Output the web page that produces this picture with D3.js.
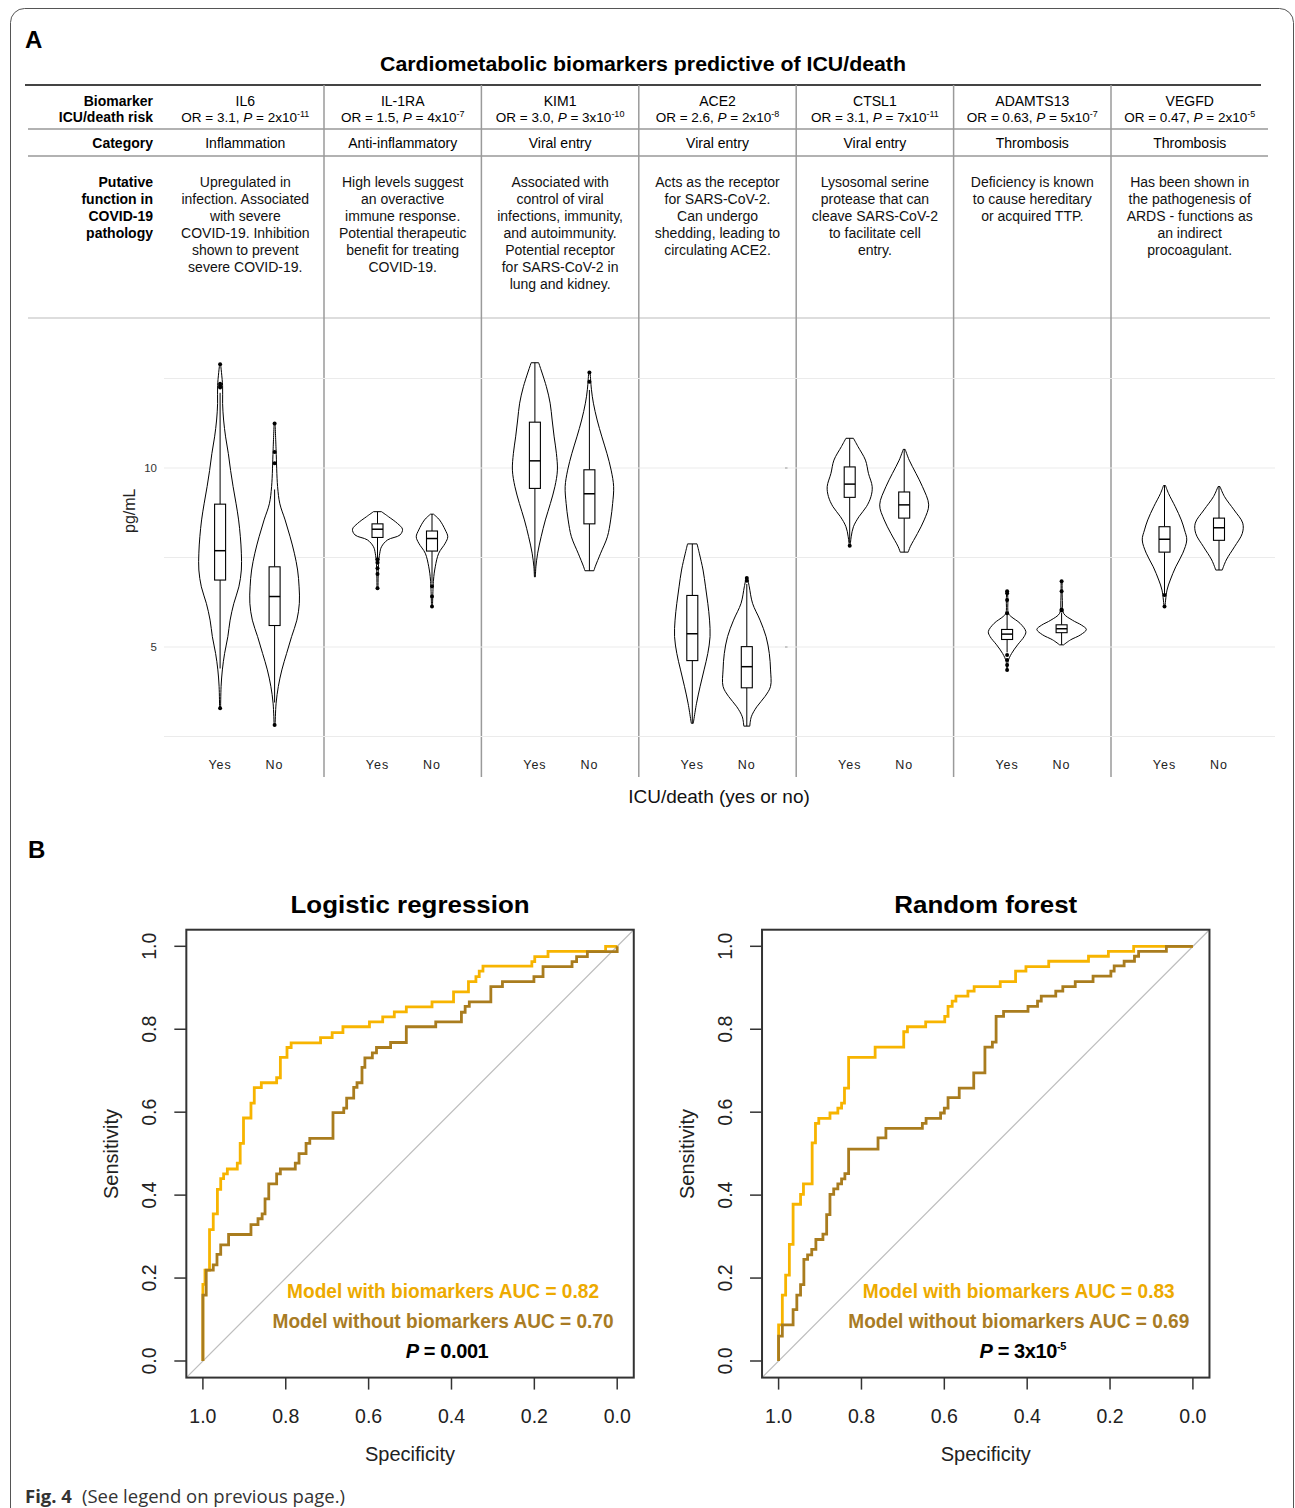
<!DOCTYPE html>
<html><head><meta charset="utf-8">
<script src="https://cdn.jsdelivr.net/npm/d3@7"></script>
<style>
body{margin:0;background:#fff}
text{font-family:"Liberation Sans",Arial,Helvetica,sans-serif}
</style>
</head><body>
<svg id="fig" width="1295" height="1508"></svg>
<script>
// ---------------- DATA ----------------
const biomarkers = ["IL6","IL-1RA","KIM1","ACE2","CTSL1","ADAMTS13","VEGFD"];
const oddsRatios = ["3.1","1.5","3.0","2.6","3.1","0.63","0.47"];
const pMantissa = ["2","4","3","2","7","5","2"];
const pExponent = ["-11","-7","-10","-8","-11","-7","-5"];
const categories = ["Inflammation","Anti-inflammatory","Viral entry","Viral entry","Viral entry","Thrombosis","Thrombosis"];
const functions = [
  ["Upregulated in","infection. Associated","with severe","COVID-19. Inhibition","shown to prevent","severe COVID-19."],
  ["High levels suggest","an overactive","immune response.","Potential therapeutic","benefit for treating","COVID-19."],
  ["Associated with","control of viral","infections, immunity,","and autoimmunity.","Potential receptor","for SARS-CoV-2 in","lung and kidney."],
  ["Acts as the receptor","for SARS-CoV-2.","Can undergo","shedding, leading to","circulating ACE2."],
  ["Lysosomal serine","protease that can","cleave SARS-CoV-2","to facilitate cell","entry."],
  ["Deficiency is known","to cause hereditary","or acquired TTP."],
  ["Has been shown in","the pathogenesis of","ARDS - functions as","an indirect","procoagulant."]
];
const rowLabels = [["Biomarker","ICU/death risk"],["Category"],["Putative","function in","COVID-19","pathology"]];
const groups = ["Yes","No"];
const yTicks = [5,10];
const yGrid = [2.5,5,7.5,10,12.5];

// violin profiles: [value, relative density]
const violinYes = [
  [[12.9,.02],[12.3,.1],[11.8,.1],[11.34,.14],[10.87,.22],[10.4,.33],[9.93,.42],[9.48,.52],[9.0,.64],[8.55,.74],[8.08,.81],[7.62,.85],[7.15,.85],[6.68,.75],[6.22,.55],[5.75,.4],[5.29,.31],[4.82,.18],[4.36,.09],[3.9,.04],[3.29,.02]],
  [[8.78,.16],[8.64,.44],[8.45,.8],[8.29,1.0],[8.13,.9],[7.99,.4],[7.8,.16],[7.62,.09],[7.3,.04],[6.64,.02]],
  [[12.94,.15],[12.27,.46],[11.81,.61],[11.34,.69],[10.87,.77],[10.41,.86],[9.94,.9],[9.48,.8],[9.01,.62],[8.55,.42],[8.08,.25],[7.62,.11],[7.24,.04],[6.96,.02]],
  [[7.88,.19],[7.62,.28],[7.15,.43],[6.68,.53],[6.22,.62],[5.75,.69],[5.29,.71],[4.82,.62],[4.36,.47],[3.89,.31],[3.43,.17],[2.96,.06],[2.87,.04]],
  [[10.83,.15],[10.6,.33],[10.22,.63],[9.85,.75],[9.48,.9],[9.2,.85],[8.92,.67],[8.64,.37],[8.36,.15],[8.08,.06],[7.83,.02]],
  [[6.56,.02],[6.3,.03],[5.94,.05],[5.85,.16],[5.66,.52],[5.43,.75],[5.29,.68],[5.06,.42],[4.82,.18],[4.6,.04],[4.38,.02]],
  [[9.51,.04],[9.29,.16],[8.92,.43],[8.55,.67],[8.27,.8],[7.99,.89],[7.62,.73],[7.24,.45],[6.87,.23],[6.59,.1],[6.13,.02]]
];
const violinNo = [
  [[11.24,.02],[10.5,.06],[9.48,.12],[9.0,.21],[8.55,.42],[8.08,.62],[7.62,.79],[7.15,.92],[6.68,.98],[6.22,.99],[5.75,.89],[5.29,.68],[4.82,.48],[4.36,.29],[3.9,.15],[3.43,.06],[2.82,.02]],
  [[8.71,.06],[8.55,.3],[8.27,.53],[8.08,.63],[7.9,.53],[7.62,.27],[7.24,.13],[6.87,.06],[6.13,.02]],
  [[12.67,.03],[12.2,.08],[11.81,.16],[11.34,.31],[10.87,.5],[10.41,.7],[9.94,.87],[9.48,.97],[9.01,.93],[8.55,.85],[8.08,.72],[7.62,.45],[7.24,.23],[7.13,.18]],
  [[6.93,.03],[6.68,.1],[6.22,.23],[5.75,.53],[5.29,.77],[4.82,.9],[4.36,.95],[3.9,.95],[3.62,.73],[3.33,.4],[3.05,.18],[2.79,.12]],
  [[10.52,.04],[10.22,.2],[9.85,.47],[9.48,.73],[8.97,.98],[8.55,.8],[8.17,.53],[7.8,.24],[7.65,.16]],
  [[6.85,.02],[6.3,.03],[5.94,.08],[5.75,.43],[5.61,.8],[5.49,.99],[5.34,.76],[5.2,.36],[5.06,.08]],
  [[9.48,.04],[9.2,.22],[8.83,.6],[8.46,.95],[8.17,.93],[7.8,.62],[7.43,.29],[7.15,.13]]
];
// box stats: [whiskerLow, q1, median, q3, whiskerHigh]
const boxYes = [[4.4,6.87,7.69,8.99,12.1],[7.48,8.06,8.29,8.44,8.78],[6.96,9.43,10.2,11.28,12.94],[2.87,4.62,5.37,6.44,7.88],[7.9,9.18,9.55,10.03,10.83],[4.85,5.21,5.36,5.49,5.92],[6.5,7.65,8.01,8.36,9.51]];
const boxNo  = [[3.45,5.6,6.41,7.24,9.4],[6.77,7.68,8.03,8.24,8.71],[7.13,8.44,9.28,9.95,12.18],[2.79,3.86,4.45,5.01,6.76],[7.65,8.6,8.97,9.33,10.52],[5.06,5.4,5.51,5.62,5.95],[7.15,7.98,8.33,8.6,9.48]];
const outliersYes = [[12.25,12.3,12.35,12.9,3.29],[7.45,7.35,7.2,7.04,6.64],[],[],[7.83],[6.56,6.5,6.31,5.94,4.78,4.64,4.5,4.36],[6.45,6.13]];
const outliersNo  = [[10.13,10.45,11.24,2.82],[6.7,6.41,6.13],[12.41,12.67],[6.85,6.93],[],[6.02,6.05,6.56,6.84],[]];

// ROC curves: [specificity, sensitivity]
const specTicks = [1.0,0.8,0.6,0.4,0.2,0.0];
const sensTicks = [0.0,0.2,0.4,0.6,0.8,1.0];
const rocLogWith = [[1,0],[1,.185],[.995,.219],[.984,.317],[.975,.355],[.965,.414],[.957,.44],[.95,.451],[.941,.463],[.917,.477],[.91,.525],[.902,.586],[.884,.622],[.876,.659],[.859,.671],[.822,.683],[.813,.732],[.797,.756],[.787,.767],[.716,.78],[.688,.792],[.662,.806],[.598,.818],[.566,.83],[.538,.842],[.509,.854],[.447,.866],[.395,.89],[.359,.915],[.341,.927],[.333,.94],[.324,.952],[.206,.963],[.199,.975],[.167,.988],[.028,1],[0,1]];
const rocLogWithout = [[1,0],[1,.159],[.992,.219],[.975,.232],[.966,.257],[.957,.28],[.938,.305],[.884,.329],[.867,.343],[.857,.355],[.85,.391],[.841,.427],[.822,.451],[.813,.463],[.777,.477],[.768,.5],[.751,.525],[.742,.537],[.686,.599],[.66,.61],[.653,.634],[.636,.66],[.628,.671],[.616,.708],[.609,.731],[.591,.743],[.581,.756],[.547,.768],[.509,.806],[.438,.818],[.376,.841],[.367,.855],[.357,.866],[.305,.903],[.277,.915],[.201,.927],[.179,.951],[.109,.963],[.098,.975],[.072,.987],[0,1]];
const rocRfWith = [[1,0],[1,.087],[.991,.159],[.983,.207],[.974,.281],[.965,.378],[.947,.402],[.94,.427],[.919,.526],[.911,.573],[.903,.585],[.876,.598],[.857,.61],[.848,.622],[.841,.658],[.831,.732],[.767,.757],[.698,.794],[.689,.806],[.645,.818],[.599,.831],[.591,.855],[.581,.868],[.572,.88],[.543,.892],[.528,.903],[.465,.915],[.428,.94],[.403,.951],[.348,.964],[.252,.976],[.204,.988],[.143,1],[0,1]];
const rocRfWithout = [[1,0],[1,.06],[.991,.087],[.965,.124],[.956,.159],[.947,.184],[.939,.245],[.93,.256],[.92,.269],[.91,.293],[.893,.306],[.884,.353],[.876,.402],[.867,.415],[.857,.427],[.848,.439],[.84,.452],[.831,.511],[.76,.538],[.741,.561],[.653,.573],[.644,.585],[.609,.598],[.6,.61],[.591,.635],[.564,.658],[.529,.695],[.502,.757],[.484,.769],[.475,.831],[.457,.843],[.398,.855],[.375,.868],[.366,.88],[.331,.892],[.314,.903],[.284,.915],[.241,.928],[.198,.94],[.19,.953],[.166,.964],[.141,.976],[.131,.988],[.064,1],[0,1]];
const rocPanels = [
  {title:"Logistic regression", withRoc:rocLogWith, withoutRoc:rocLogWithout, aucWith:"0.82", aucWithout:"0.70", pMain:"0.001", pExp:null},
  {title:"Random forest", withRoc:rocRfWith, withoutRoc:rocRfWithout, aucWith:"0.83", aucWithout:"0.69", pMain:"3x10", pExp:"-5"}
];

// ---------------- DRAW ----------------
const svg = d3.select("#fig");
const COL_WITH = "#F7B400", COL_WITHOUT = "#A97C1E";
const TXT_WITH = "#EDAA00", TXT_WITHOUT = "#A87B24";

svg.append("rect").attr("x",10.5).attr("y",8.5).attr("width",1283).attr("height",1560)
  .attr("rx",14).attr("fill","none").attr("stroke","#555").attr("stroke-width",1);

svg.append("text").attr("x",25).attr("y",48).attr("font-size",24).attr("font-weight","bold").text("A");
svg.append("text").attr("x",643).attr("y",71).attr("text-anchor","middle").attr("font-size",20.5).attr("font-weight","bold")
  .attr("textLength",526).attr("lengthAdjust","spacingAndGlyphs")
  .text("Cardiometabolic biomarkers predictive of ICU/death");

const colX = d3.scaleBand().domain(biomarkers).range([166.6, 1268.4]);
const cx = b => colX(b) + colX.bandwidth()/2;

// table lines
svg.append("line").attr("x1",25).attr("x2",1261).attr("y1",85).attr("y2",85).attr("stroke","#444").attr("stroke-width",2);
[129,156].forEach(y=>svg.append("line").attr("x1",28).attr("x2",1268).attr("y1",y).attr("y2",y).attr("stroke","#999").attr("stroke-width",1.5));
svg.append("line").attr("x1",28).attr("x2",1270).attr("y1",318).attr("y2",318).attr("stroke","#bbb").attr("stroke-width",1.2);
biomarkers.slice(1).forEach(b=>{
  svg.append("line").attr("x1",colX(b)).attr("x2",colX(b)).attr("y1",85).attr("y2",777).attr("stroke","#9a9a9a").attr("stroke-width",1.5);
});

// row labels
const rowBase = [[106,122],[148],[187,204,221,238]];
rowLabels.forEach((lines,r)=>lines.forEach((t,k)=>{
  svg.append("text").attr("x",153).attr("y",rowBase[r][k]).attr("text-anchor","end").attr("font-size",14).attr("font-weight","bold").text(t);
}));

biomarkers.forEach((b,i)=>{
  const x = cx(b);
  svg.append("text").attr("x",x).attr("y",106).attr("text-anchor","middle").attr("font-size",14).text(b);
  const t = svg.append("text").attr("x",x).attr("y",122).attr("text-anchor","middle").attr("font-size",13.5);
  t.append("tspan").text("OR = "+oddsRatios[i]+", ");
  t.append("tspan").attr("font-style","italic").text("P");
  t.append("tspan").text(" = "+pMantissa[i]+"x10");
  t.append("tspan").attr("font-size",9).attr("dy",-5).text(pExponent[i]);
  svg.append("text").attr("x",x).attr("y",148).attr("text-anchor","middle").attr("font-size",14).text(categories[i]);
  functions[i].forEach((ln,k)=>{
    svg.append("text").attr("x",x).attr("y",187+17*k).attr("text-anchor","middle").attr("font-size",14).attr("fill","#111").text(ln);
  });
});

// violin panel
const yV = d3.scaleLinear().domain([2.5,12.5]).range([736.5,378.5]);
const wScale = d3.scaleLinear().domain([0,1]).range([0,25]);
yGrid.forEach(v=>svg.append("line").attr("x1",164).attr("x2",1275).attr("y1",yV(v)).attr("y2",yV(v)).attr("stroke","#ebebeb").attr("stroke-width",1));
yTicks.forEach(v=>{
  svg.append("text").attr("x",157).attr("y",yV(v)).attr("dy","0.35em").attr("text-anchor","end").attr("font-size",11.5).attr("fill","#333").text(v);
  svg.append("line").attr("x1",785).attr("x2",787.5).attr("y1",yV(v)).attr("y2",yV(v)).attr("stroke","#999").attr("stroke-width",1);
});
svg.append("text").attr("transform",`translate(135,${(yV(7.5)+yV(10))/2 - 2}) rotate(-90)`).attr("text-anchor","middle").attr("font-size",16).attr("fill","#222").text("pg/mL");

const vArea = d3.area().y(d=>yV(d[0])).curve(d3.curveCatmullRom.alpha(0.5));
biomarkers.forEach((b,i)=>{
  const left = colX(b);
  const gx = d3.scalePoint().domain(groups).range([left+53.5, left+108]);
  groups.forEach((g,j)=>{
    const c = gx(g);
    const prof = (j===0?violinYes:violinNo)[i];
    const st = (j===0?boxYes:boxNo)[i];
    const outs = (j===0?outliersYes:outliersNo)[i];
    svg.append("path").datum(prof)
      .attr("d", vArea.x0(d=>c - wScale(d[1])).x1(d=>c + wScale(d[1])))
      .attr("fill","#fff").attr("stroke","#000").attr("stroke-width",1);
    svg.append("line").attr("x1",c).attr("x2",c).attr("y1",yV(st[0])).attr("y2",yV(st[1])).attr("stroke","#000").attr("stroke-width",1);
    svg.append("line").attr("x1",c).attr("x2",c).attr("y1",yV(st[3])).attr("y2",yV(st[4])).attr("stroke","#000").attr("stroke-width",1);
    svg.append("rect").attr("x",c-5.5).attr("width",11).attr("y",yV(st[3])).attr("height",yV(st[1])-yV(st[3]))
      .attr("fill","#fff").attr("stroke","#000").attr("stroke-width",1.1);
    svg.append("line").attr("x1",c-5.5).attr("x2",c+5.5).attr("y1",yV(st[2])).attr("y2",yV(st[2])).attr("stroke","#000").attr("stroke-width",1.5);
    outs.forEach(o=>svg.append("circle").attr("cx",c).attr("cy",yV(o)).attr("r",2).attr("fill","#000"));
    svg.append("text").attr("x",c).attr("y",769).attr("text-anchor","middle").attr("font-size",12.5).attr("letter-spacing",1).attr("fill","#222").text(g);
  });
});
svg.append("text").attr("x",719).attr("y",803).attr("text-anchor","middle").attr("font-size",19).attr("fill","#111").text("ICU/death (yes or no)");

// ---------------- PANEL B ----------------
svg.append("text").attr("x",28).attr("y",858).attr("font-size",24).attr("font-weight","bold").text("B");

const panelLeft = [202.9, 778.6];
rocPanels.forEach((p,k)=>{
  const xR = d3.scaleLinear().domain([1,0]).range([panelLeft[k], panelLeft[k]+414.3]);
  const yR = d3.scaleLinear().domain([0,1]).range([1361,946.3]);
  const g = svg.append("g");
  const bx0 = xR(1.04), bx1 = xR(-0.04), by0 = yR(1.04), by1 = yR(-0.04);
  const mid = (bx0+bx1)/2;
  g.append("line").attr("x1",bx0).attr("y1",by1).attr("x2",bx1).attr("y2",by0).attr("stroke","#bdbdbd").attr("stroke-width",1.2);
  const line = d3.line().x(d=>xR(d[0])).y(d=>yR(d[1])).curve(d3.curveStepAfter);
  g.append("path").datum(p.withRoc).attr("d",line).attr("fill","none").attr("stroke",COL_WITH).attr("stroke-width",2.8);
  g.append("path").datum(p.withoutRoc).attr("d",line).attr("fill","none").attr("stroke",COL_WITHOUT).attr("stroke-width",2.8);
  g.append("rect").attr("x",bx0).attr("y",by0).attr("width",bx1-bx0).attr("height",by1-by0).attr("fill","none").attr("stroke","#333").attr("stroke-width",2);
  specTicks.forEach(t=>{
    g.append("line").attr("x1",xR(t)).attr("x2",xR(t)).attr("y1",by1).attr("y2",by1+12).attr("stroke","#333").attr("stroke-width",1.5);
    g.append("text").attr("x",xR(t)).attr("y",1423).attr("text-anchor","middle").attr("font-size",19.5).attr("fill","#222").text(d3.format(".1f")(t));
  });
  sensTicks.forEach(t=>{
    g.append("line").attr("x1",bx0).attr("x2",bx0-12).attr("y1",yR(t)).attr("y2",yR(t)).attr("stroke","#333").attr("stroke-width",1.5);
    g.append("text").attr("transform",`translate(${bx0-37},${yR(t)}) rotate(-90)`).attr("dy","0.35em").attr("text-anchor","middle").attr("font-size",19.5).attr("fill","#222").text(d3.format(".1f")(t));
  });
  g.append("text").attr("transform",`translate(${bx0-75},1154) rotate(-90)`).attr("dy","0.35em").attr("text-anchor","middle").attr("font-size",20).attr("fill","#222").text("Sensitivity");
  g.append("text").attr("x",mid).attr("y",1461).attr("text-anchor","middle").attr("font-size",20).attr("fill","#222").text("Specificity");
  g.append("text").attr("x",mid).attr("y",913).attr("text-anchor","middle").attr("font-size",24).attr("font-weight","bold")
    .attr("textLength", k===0?239:183).attr("lengthAdjust","spacingAndGlyphs").text(p.title);
  const lx = mid + 33;
  g.append("text").attr("x",lx).attr("y",1297.5).attr("text-anchor","middle").attr("font-size",20).attr("font-weight","bold").attr("fill",TXT_WITH)
    .attr("textLength",312).attr("lengthAdjust","spacingAndGlyphs").text("Model with biomarkers AUC = "+p.aucWith);
  g.append("text").attr("x",lx).attr("y",1327.5).attr("text-anchor","middle").attr("font-size",20).attr("font-weight","bold").attr("fill",TXT_WITHOUT)
    .attr("textLength",341).attr("lengthAdjust","spacingAndGlyphs").text("Model without biomarkers AUC = "+p.aucWithout);
  const pt = g.append("text").attr("x",mid+37).attr("y",1357.5).attr("text-anchor","middle").attr("font-size",20).attr("font-weight","bold").attr("fill","#000").attr("letter-spacing",-0.4);
  pt.append("tspan").attr("font-style","italic").text("P");
  pt.append("tspan").text(" = "+p.pMain);
  if(p.pExp){ pt.append("tspan").attr("font-size",11).attr("dy",-8).text(p.pExp); }
});

// caption
const cap = svg.append("text").attr("x",25).attr("y",1503).attr("font-family","'Open Sans',sans-serif").attr("font-size",18.5).attr("fill","#333");
cap.append("tspan").attr("font-weight","bold").attr("font-family","'Open Sans',sans-serif").text("Fig. 4");
cap.append("tspan").attr("font-family","'Open Sans',sans-serif").attr("dx",10).text("(See legend on previous page.)");
</script>
</body></html>
